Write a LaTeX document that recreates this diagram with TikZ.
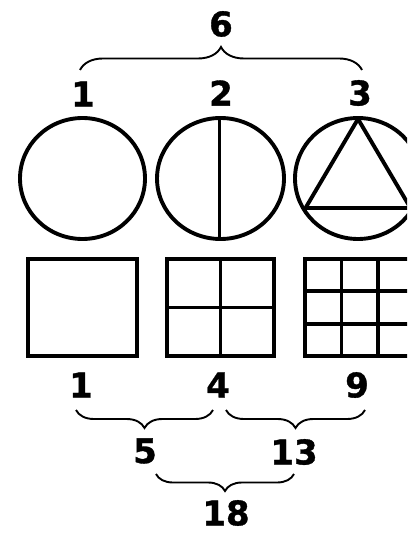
\documentclass[tikz,border=0pt]{standalone}
\usepackage{fontspec}
\setmainfont{DejaVu Sans}
\newfontfamily\numfont[FakeBold=1]{DejaVu Sans Bold}
\usetikzlibrary{decorations.pathreplacing}
\begin{document}
\begin{tikzpicture}[x=1pt,y=1pt,
  figline/.style={line width=3.9pt},
  num/.style={font=\numfont\fontsize{34}{40}\selectfont, inner sep=0pt},
  br/.style={line width=1.9pt, decorate, decoration={brace, amplitude=#1}}]
\useasboundingbox (0,0) rectangle (407,-534);
\fill[white] (0,0) rectangle (407,-534);
\begin{scope}
\clip (0,0) rectangle (407,-534);
% circles
\draw[figline] (82.5,-178.5) ellipse [x radius=62.5, y radius=60.5];
\draw[figline] (220.5,-178.5) ellipse [x radius=63.5, y radius=60.5];
\draw[figline] (219.5,-118) -- (219.5,-239);
\draw[figline] (358,-178.5) ellipse [x radius=63, y radius=60.5];
\draw[figline, line join=round] (358,-119) -- (305.5,-208) -- (410.5,-208) -- cycle;
% squares
\draw[figline] (28,-259) rectangle (137,-356);
\draw[figline] (167,-259) rectangle (274,-356);
\draw[figline] (220.5,-259) -- (220.5,-356) (167,-307.5) -- (274,-307.5);
\draw[figline] (305,-259) rectangle (414,-356);
\draw[figline] (341.5,-259) -- (341.5,-356) (378,-259) -- (378,-356)
  (305,-291.3) -- (414,-291.3) (305,-323.7) -- (414,-323.7);
\end{scope}
% labels top
\node[num] (six) at (221,-24) {6};
\node[num] (c1) at (83,-94) {1};
\node[num] (c2) at (221,-93) {2};
\node[num] (c3) at (360,-93) {3};
\draw[br=23] (80,-70) -- (362,-70);
% labels bottom
\node[num] (s1) at (81,-385) {1};
\node[num] (s4) at (218,-385) {4};
\node[num] (s9) at (357,-385) {9};
\draw[br=18] (213,-410) -- (76,-410);
\draw[br=18] (365,-410) -- (226,-410);
\node[num] (five) at (145,-451) {5};
\node[num] (thirteen) at (294,-452) {13};
\draw[br=17] (294,-474) -- (156,-474);
\node[num] (eighteen) at (226,-513) {18};
\end{tikzpicture}
\end{document}
